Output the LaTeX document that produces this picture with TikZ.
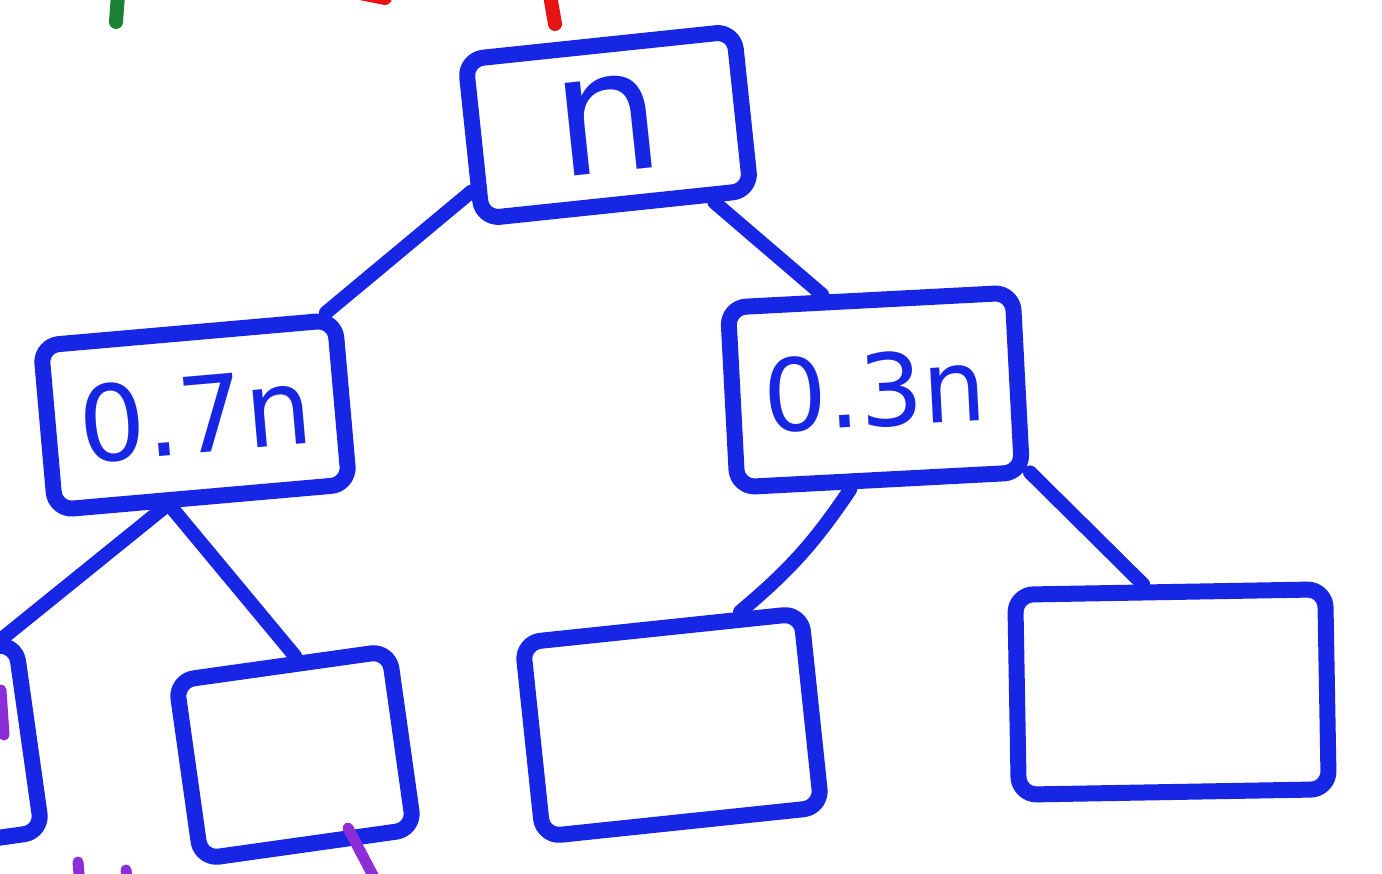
\documentclass[tikz,border=0pt]{standalone}
\usepackage{fontspec}
\setmainfont{DejaVu Sans}
\definecolor{handblue}{RGB}{22,38,228}
\definecolor{handgreen}{RGB}{28,128,52}
\definecolor{handred}{RGB}{230,20,20}
\definecolor{handpurple}{RGB}{140,45,215}
\begin{document}
\begin{tikzpicture}[x=1pt,y=-1pt,
  ink/.style={draw=handblue,line width=16pt,line cap=round,line join=round},
  tbox/.style={ink,rectangle,rounded corners=18pt,inner sep=0pt,text=handblue},
  link/.style={draw=handblue,line width=14pt,line cap=round},
  strokemark/.style={line width=14pt,line cap=round}]
\useasboundingbox (0,0) rectangle (1382,874);
\fill[white] (0,0) rectangle (1382,874);
% top row
\node[tbox,minimum width=270pt,minimum height=160pt,rotate=6,font=\fontsize{170}{170}\selectfont] (root) at (608,125) {n};
% second row
\node[tbox,minimum width=295pt,minimum height=165pt,rotate=5,font=\fontsize{105}{105}\selectfont] (l) at (195,415) {0.7n};
\node[tbox,minimum width=285pt,minimum height=180pt,rotate=3,font=\fontsize{100}{100}\selectfont] (r) at (875,390) {0.3n};
% third row
\node[tbox,minimum width=250pt,minimum height=190pt,rotate=8] (b1) at (-95,755) {};
\node[tbox,minimum width=215pt,minimum height=180pt,rotate=8] (b2) at (295,755) {};
\node[tbox,minimum width=280pt,minimum height=195pt,rotate=6] (b3) at (672,725) {};
\node[tbox,minimum width=310pt,minimum height=200pt,rotate=1] (b4) at (1172,692) {};
% connectors
\draw[link] (root.200) -- (l.33);
\draw[link] (root.318) -- (r.116);
\draw[link] (l.246) -- (b1.42);
\draw[link] (l.251) -- (b2.82);
\draw[link] (r.253) to[bend left=8] (b3.53);
\draw[link] (r.329) -- (b4.104);
% cropped marks at the edges
\draw[strokemark,handgreen] (118,-5) -- (116,22);
\draw[strokemark,handred] (550,-5) -- (555,24);
\draw[strokemark,handred] (355,-8) -- (385,-2);
\draw[strokemark,handpurple,line width=11pt] (1,690) -- (4,735);
\draw[strokemark,handpurple,line width=11pt] (348,828) -- (378,885);
\draw[strokemark,handpurple,line width=11pt] (78,862) -- (80,885);
\draw[strokemark,handpurple,line width=11pt] (126,870) -- (128,885);
\end{tikzpicture}
\end{document}
